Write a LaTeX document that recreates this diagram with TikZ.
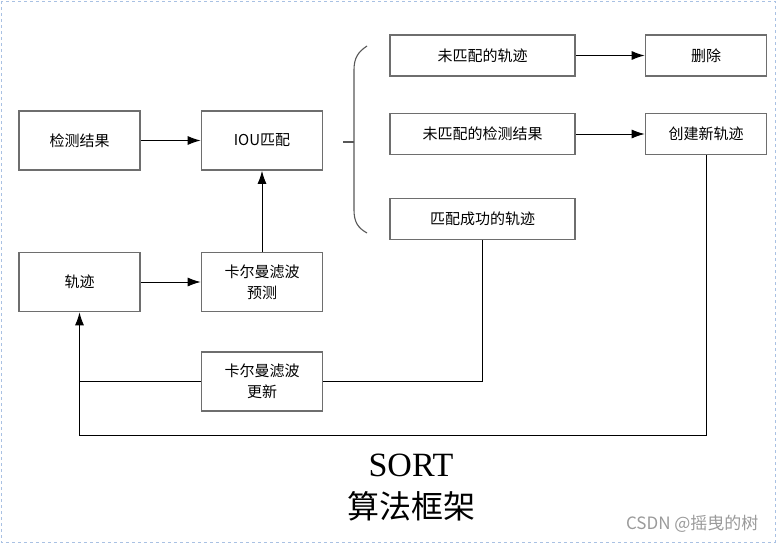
\documentclass[tikz,border=0pt]{standalone}
\usepackage{fontspec}
\setmainfont{Liberation Serif}
\newfontfamily\cjk{Noto Sans CJK SC}
\usepackage{xcolor}
\usepackage{tikz}
\usetikzlibrary{arrows.meta}
\definecolor{frame}{HTML}{A9C1E3}
\definecolor{boxline}{HTML}{6E6E6E}
\definecolor{ink}{HTML}{000000}
\definecolor{wmark}{HTML}{9A9A9A}
\tikzset{
  box/.style={draw=boxline, line width=1.6pt, fill=white, minimum width=121pt, minimum height=59pt, inner sep=2pt, align=center, text=ink, font=\cjk\fontsize{15}{21}\selectfont},
  wbox/.style={box, minimum width=185pt, minimum height=41pt},
  sbox/.style={box, minimum height=41pt},
  line/.style={draw=ink, line width=1pt},
  arr/.style={line, -{Latex[length=13pt,width=9pt]}},
  brc/.style={draw=boxline!80!black, line width=1.1pt}
}

\begin{document}
\begin{tikzpicture}[x=1pt,y=-1pt]
  \useasboundingbox (0,0) rectangle (776,543);
  \draw[frame, dashed, line width=0.8pt] (1,1) rectangle (775,542);

  % left column and middle
  \node[box] (det) at (79.5,140.5) {检测结果};
  \node[box] (iou) at (262,140.5) {IOU匹配};
  \node[box] (trk) at (79.5,282) {轨迹};
  \node[box] (pred) at (262,282) {卡尔曼滤波\\预测};
  \node[box] (upd) at (262,381.5) {卡尔曼滤波\\更新};

  % match outcomes
  \node[wbox] (umt) at (482.5,55.5) {未匹配的轨迹};
  \node[wbox] (umd) at (482.5,134) {未匹配的检测结果};
  \node[wbox] (mtc) at (482.5,219) {匹配成功的轨迹};
  \node[sbox] (del) at (706,55.5) {删除};
  \node[sbox] (new) at (706,134) {创建新轨迹};

  % brace
  \draw[brc] (367,46) .. controls (358,52) and (354,58) .. (354,70) -- (354,210)
    .. controls (354,222) and (358,228) .. (367,233);
  \coordinate (tip) at (343,142);
  \draw[brc] (tip) -- (354,142);

  \draw[arr] (det) -- (iou);
  \draw[arr] (trk) -- (pred);
  \draw[arr] (pred) -- (iou);
  \draw[arr] (umt) -- (del);
  \draw[arr] (umd) -- (new);

  \draw[line] (mtc.south) |- (upd.east);
  \draw[line] (upd.west) -- (trk.south |- upd.west);
  \coordinate (fb) at (79.5,435);
  \draw[arr] (new.south) |- (fb) -- (trk.south);

  \node (ttl) at (411,465) {\fontsize{34}{38}\selectfont SORT};
  \node (sub) at (411,506) {\cjk\fontsize{32}{36}\selectfont 算法框架};
  \node[anchor=east, text=wmark] (wm) at (762,524) {\cjk\fontsize{17}{20}\selectfont CSDN @摇曳的树};
\end{tikzpicture}
\end{document}
